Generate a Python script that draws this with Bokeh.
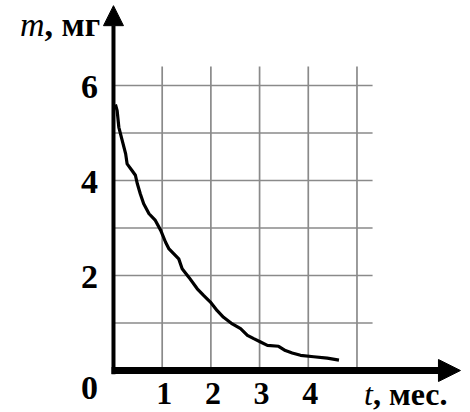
from bokeh.plotting import figure
from bokeh.models import ColumnDataSource, Arrow, NormalHead, Range1d
from bokeh.embed import file_html
from bokeh.resources import INLINE
from bokeh.core.properties import value

# ---- data ----
t_months = [0.04, 0.075, 0.11, 0.18, 0.25, 0.28, 0.38, 0.45, 0.49, 0.55, 0.62, 0.73,
            0.86, 0.97, 1.07, 1.14, 1.34, 1.41, 1.55, 1.72, 1.85, 1.99, 2.13, 2.26,
            2.44, 2.61, 2.75, 2.88, 3.02, 3.16, 3.39, 3.53, 3.67, 3.84, 4.11, 4.39, 4.63]
m_mg = [5.60, 5.47, 5.12, 4.84, 4.56, 4.35, 4.21, 4.11, 3.93, 3.72, 3.51, 3.30,
        3.16, 2.95, 2.70, 2.56, 2.35, 2.14, 1.96, 1.72, 1.58, 1.44, 1.26, 1.12,
        0.98, 0.88, 0.74, 0.67, 0.60, 0.53, 0.51, 0.42, 0.37, 0.32, 0.29, 0.26, 0.22]

x_ticks = [1, 2, 3, 4]
x_tick_labels = ["1", "2", "3", "4"]
y_ticks = [2, 4, 6]
y_tick_labels = ["2", "4", "6"]
origin_label = ["0"]
grid_t = [1, 2, 3, 4, 5]
grid_m = [1, 2, 3, 4, 5, 6]
x_title_italic = "t"
x_title_rest = ", мес."
y_title_italic = "m"
y_title_rest = ", мг"

# ---- layout constants ----
GRID_T_MAX = 5.32
GRID_M_MAX = 6.4
FONT = value("Liberation Serif")
FS = "34px"
FS_BOTTOM = "32px"

p = figure(width=470, height=412, output_backend="svg", toolbar_location=None,
           x_axis_location=None, y_axis_location=None,
           x_range=Range1d(-2.320, 7.331), y_range=Range1d(-0.884, 7.789),
           min_border=0, outline_line_color=None, background_fill_color="white")
p.xgrid.visible = False
p.ygrid.visible = False

# grid
vsrc = ColumnDataSource(dict(x=grid_t, y0=[0] * len(grid_t), y1=[GRID_M_MAX] * len(grid_t)))
p.segment(x0="x", y0="y0", x1="x", y1="y1", source=vsrc, line_color="#8a8a8a", line_width=1.7)
hsrc = ColumnDataSource(dict(y=grid_m, x0=[0] * len(grid_m), x1=[GRID_T_MAX] * len(grid_m)))
p.segment(x0="x0", y0="y", x1="x1", y1="y", source=hsrc, line_color="#8a8a8a", line_width=1.7)

# curve
p.line(t_months, m_mg, line_color="black", line_width=3.2, line_join="round")

# axes with arrows
p.add_layout(Arrow(x_start=0, y_start=-0.08, x_end=0, y_end=7.68, line_width=4, line_color="black",
                   end=NormalHead(size=20, fill_color="black", line_color="black")))
p.add_layout(Arrow(x_start=-0.04, y_start=0, x_end=7.125, y_end=0, line_width=7, line_color="black",
                   end=NormalHead(size=22, fill_color="black", line_color="black")))

common = dict(text_font=FONT, text_baseline="middle", text_color="black")

# tick labels
p.text(x=[0] * len(y_ticks), y=y_ticks, text=y_tick_labels, text_font_style="bold",
       text_font_size=FS, text_align="center", x_offset=-24, y_offset=1.5, **common)
p.text(x=x_ticks, y=[0] * len(x_ticks), text=x_tick_labels, text_font_style="bold",
       text_font_size=FS_BOTTOM, text_align="center", x_offset=2, y_offset=23, **common)
p.text(x=[0], y=[0], text=origin_label, text_font_style="bold",
       text_font_size=FS, text_align="center", x_offset=-24, y_offset=17, **common)

# axis titles
p.text(x=[5], y=[0], text=[x_title_italic], text_font_style="italic",
       text_font_size=FS_BOTTOM, text_align="right", x_offset=16, y_offset=23, **common)
p.text(x=[5], y=[0], text=[x_title_rest], text_font_style="bold",
       text_font_size=FS_BOTTOM, text_align="left", x_offset=16, y_offset=23, **common)
p.text(x=[0], y=[6], text=[y_title_italic], text_font_style="italic",
       text_font_size=FS, text_align="right", x_offset=-69, y_offset=-61, **common)
p.text(x=[0], y=[6], text=[y_title_rest], text_font_style="bold",
       text_font_size=FS, text_align="left", x_offset=-69, y_offset=-61, **common)

open("out.html", "w").write(file_html(p, INLINE))
